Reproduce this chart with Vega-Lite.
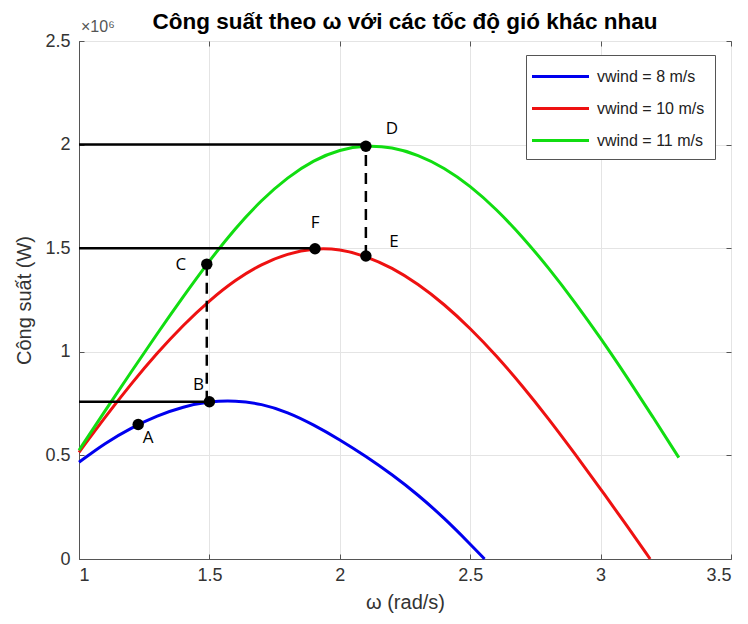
{
  "$schema": "https://vega.github.io/schema/vega-lite/v6.json",
  "autosize": {"type": "none"},
  "width": 652,
  "height": 518,
  "padding": {"left": 79, "top": 41, "right": 17, "bottom": 65},
  "background": "white",
  "config": {
    "view": {"stroke": "#555555", "strokeWidth": 1},
    "font": "Liberation Sans"
  },
  "title": {
    "text": "Công suất theo  ω với các tốc độ gió khác nhau",
    "font": "Liberation Sans",
    "fontSize": 22.5,
    "fontWeight": "bold",
    "color": "#000000",
    "anchor": "middle",
    "offset": -14
  },
  "datasets": {
    "curves": [
      {"w": 1.0, "P": 467000, "s": "vwind = 8 m/s"},
      {"w": 1.1, "P": 560000, "s": "vwind = 8 m/s"},
      {"w": 1.2, "P": 633000, "s": "vwind = 8 m/s"},
      {"w": 1.3, "P": 692000, "s": "vwind = 8 m/s"},
      {"w": 1.4, "P": 735000, "s": "vwind = 8 m/s"},
      {"w": 1.5, "P": 761000, "s": "vwind = 8 m/s"},
      {"w": 1.6, "P": 765000, "s": "vwind = 8 m/s"},
      {"w": 1.7, "P": 749000, "s": "vwind = 8 m/s"},
      {"w": 1.8, "P": 709000, "s": "vwind = 8 m/s"},
      {"w": 1.9, "P": 648000, "s": "vwind = 8 m/s"},
      {"w": 2.0, "P": 576000, "s": "vwind = 8 m/s"},
      {"w": 2.1, "P": 496000, "s": "vwind = 8 m/s"},
      {"w": 2.2, "P": 408000, "s": "vwind = 8 m/s"},
      {"w": 2.3, "P": 310000, "s": "vwind = 8 m/s"},
      {"w": 2.4, "P": 198000, "s": "vwind = 8 m/s"},
      {"w": 2.5, "P": 72000, "s": "vwind = 8 m/s"},
      {"w": 2.555, "P": 0, "s": "vwind = 8 m/s"},
      {"w": 1.0, "P": 515000, "s": "vwind = 10 m/s"},
      {"w": 1.1, "P": 685000, "s": "vwind = 10 m/s"},
      {"w": 1.2, "P": 846000, "s": "vwind = 10 m/s"},
      {"w": 1.3, "P": 995000, "s": "vwind = 10 m/s"},
      {"w": 1.4, "P": 1130000, "s": "vwind = 10 m/s"},
      {"w": 1.5, "P": 1248000, "s": "vwind = 10 m/s"},
      {"w": 1.6, "P": 1348000, "s": "vwind = 10 m/s"},
      {"w": 1.7, "P": 1424000, "s": "vwind = 10 m/s"},
      {"w": 1.8, "P": 1474000, "s": "vwind = 10 m/s"},
      {"w": 1.9, "P": 1500000, "s": "vwind = 10 m/s"},
      {"w": 2.0, "P": 1496000, "s": "vwind = 10 m/s"},
      {"w": 2.1, "P": 1462000, "s": "vwind = 10 m/s"},
      {"w": 2.2, "P": 1406000, "s": "vwind = 10 m/s"},
      {"w": 2.3, "P": 1328000, "s": "vwind = 10 m/s"},
      {"w": 2.4, "P": 1230000, "s": "vwind = 10 m/s"},
      {"w": 2.5, "P": 1114000, "s": "vwind = 10 m/s"},
      {"w": 2.6, "P": 982000, "s": "vwind = 10 m/s"},
      {"w": 2.7, "P": 836000, "s": "vwind = 10 m/s"},
      {"w": 2.8, "P": 678000, "s": "vwind = 10 m/s"},
      {"w": 2.9, "P": 510000, "s": "vwind = 10 m/s"},
      {"w": 3.0, "P": 338000, "s": "vwind = 10 m/s"},
      {"w": 3.1, "P": 162000, "s": "vwind = 10 m/s"},
      {"w": 3.19, "P": 0, "s": "vwind = 10 m/s"},
      {"w": 1.0, "P": 525000, "s": "vwind = 11 m/s"},
      {"w": 1.1, "P": 715000, "s": "vwind = 11 m/s"},
      {"w": 1.2, "P": 903000, "s": "vwind = 11 m/s"},
      {"w": 1.3, "P": 1088000, "s": "vwind = 11 m/s"},
      {"w": 1.4, "P": 1267000, "s": "vwind = 11 m/s"},
      {"w": 1.5, "P": 1440000, "s": "vwind = 11 m/s"},
      {"w": 1.6, "P": 1598000, "s": "vwind = 11 m/s"},
      {"w": 1.7, "P": 1733000, "s": "vwind = 11 m/s"},
      {"w": 1.8, "P": 1843000, "s": "vwind = 11 m/s"},
      {"w": 1.9, "P": 1925000, "s": "vwind = 11 m/s"},
      {"w": 2.0, "P": 1977000, "s": "vwind = 11 m/s"},
      {"w": 2.1, "P": 1996000, "s": "vwind = 11 m/s"},
      {"w": 2.2, "P": 1988000, "s": "vwind = 11 m/s"},
      {"w": 2.3, "P": 1951000, "s": "vwind = 11 m/s"},
      {"w": 2.4, "P": 1889000, "s": "vwind = 11 m/s"},
      {"w": 2.5, "P": 1801000, "s": "vwind = 11 m/s"},
      {"w": 2.6, "P": 1689000, "s": "vwind = 11 m/s"},
      {"w": 2.7, "P": 1556000, "s": "vwind = 11 m/s"},
      {"w": 2.8, "P": 1406000, "s": "vwind = 11 m/s"},
      {"w": 2.9, "P": 1242000, "s": "vwind = 11 m/s"},
      {"w": 3.0, "P": 1066000, "s": "vwind = 11 m/s"},
      {"w": 3.1, "P": 880000, "s": "vwind = 11 m/s"},
      {"w": 3.2, "P": 687000, "s": "vwind = 11 m/s"},
      {"w": 3.3, "P": 489000, "s": "vwind = 11 m/s"}
    ],
    "hlines": [
      {"w0": 1.0, "w1": 2.1, "P": 2000000},
      {"w0": 1.0, "w1": 1.905, "P": 1500000},
      {"w0": 1.0, "w1": 1.5, "P": 759000}
    ],
    "vlines": [
      {"w": 1.49, "P0": 759000, "P1": 1423000},
      {"w": 2.1, "P0": 1462000, "P1": 1992000}
    ],
    "pts": [
      {"name": "A", "w": 1.227, "P": 649000},
      {"name": "B", "w": 1.5, "P": 759000},
      {"name": "C", "w": 1.49, "P": 1423000},
      {"name": "D", "w": 2.1, "P": 1992000},
      {"name": "E", "w": 2.1, "P": 1462000},
      {"name": "F", "w": 1.905, "P": 1497000}
    ],
    "expo": [{"w": 1.0, "P": 2500000, "t": "×10⁶"}]
  },
  "resolve": {"axis": {"x": "independent", "y": "independent"}},
  "layer": [
    {
      "data": {"name": "curves"},
      "mark": {"type": "line", "strokeWidth": 3, "interpolate": "basis"},
      "encoding": {
        "x": {
          "field": "w", "type": "quantitative",
          "scale": {"domain": [1, 3.5], "nice": false, "zero": false},
          "axis": {
            "title": "ω (rad/s)",
            "values": [1, 1.5, 2, 2.5, 3, 3.5],
            "format": "~g",
            "grid": true, "gridColor": "#e4e4e4",
            "domainColor": "#555555",
            "tickColor": "#555555", "tickSize": -5,
            "labelFontSize": 18, "labelColor": "#333333", "labelPadding": 12,
            "labelFont": "Liberation Sans",
            "titleFont": "Liberation Sans", "titleFontSize": 20, "titleFontWeight": "normal",
            "titleColor": "#333333", "titlePadding": 8
          }
        },
        "y": {
          "field": "P", "type": "quantitative",
          "scale": {"domain": [0, 2500000], "nice": false},
          "axis": {
            "title": "Công suất (W)",
            "values": [0, 500000, 1000000, 1500000, 2000000, 2500000],
            "labelExpr": "format(datum.value/1000000, '~g')",
            "grid": true, "gridColor": "#e4e4e4",
            "domainColor": "#555555",
            "tickColor": "#555555", "tickSize": -5,
            "labelFontSize": 18, "labelColor": "#333333", "labelPadding": 14,
            "labelFont": "Liberation Sans",
            "titleFont": "Liberation Sans", "titleFontSize": 20, "titleFontWeight": "normal",
            "titleColor": "#333333", "titlePadding": 10
          }
        },
        "color": {
          "field": "s", "type": "nominal",
          "scale": {
            "domain": ["vwind = 8 m/s", "vwind = 10 m/s", "vwind = 11 m/s"],
            "range": ["#0000ee", "#ee1111", "#11dd11"]
          },
          "legend": {
            "title": null,
            "orient": "none",
            "legendX": 447,
            "legendY": 14,
            "direction": "vertical",
            "symbolType": "M-2.85,0H2.85",
            "symbolStrokeWidth": 3,
            "symbolSize": 400,
            "symbolOffset": 13,
            "labelOffset": 25,
            "labelFontSize": 16,
            "labelFont": "Liberation Sans",
            "labelColor": "#222222",
            "strokeColor": "#555555",
            "fillColor": "white",
            "padding": 10,
            "rowPadding": 12
          }
        }
      }
    },
    {
      "data": {"name": "hlines"},
      "mark": {"type": "rule", "color": "black", "strokeWidth": 2.5},
      "encoding": {
        "x": {"field": "w0", "type": "quantitative", "axis": null},
        "x2": {"field": "w1"},
        "y": {"field": "P", "type": "quantitative", "axis": null}
      }
    },
    {
      "data": {"name": "vlines"},
      "mark": {"type": "rule", "color": "black", "strokeWidth": 2.5, "strokeDash": [11, 7]},
      "encoding": {
        "x": {"field": "w", "type": "quantitative", "axis": null},
        "y": {"field": "P0", "type": "quantitative", "axis": null},
        "y2": {"field": "P1"}
      }
    },
    {
      "data": {"name": "pts"},
      "mark": {"type": "circle", "color": "black", "size": 130, "opacity": 1},
      "encoding": {
        "x": {"field": "w", "type": "quantitative", "axis": null},
        "y": {"field": "P", "type": "quantitative", "axis": null}
      }
    },
    {
      "data": {"name": "pts"},
      "transform": [{"filter": "datum.name == 'A'"}],
      "mark": {"type": "text", "font": "Open Sans", "fontSize": 17, "color": "black", "dx": 10, "dy": 13},
      "encoding": {
        "x": {"field": "w", "type": "quantitative", "axis": null},
        "y": {"field": "P", "type": "quantitative", "axis": null},
        "text": {"field": "name"}
      }
    },
    {
      "data": {"name": "pts"},
      "transform": [{"filter": "datum.name == 'B'"}],
      "mark": {"type": "text", "font": "Open Sans", "fontSize": 17, "color": "black", "dx": -11, "dy": -17},
      "encoding": {
        "x": {"field": "w", "type": "quantitative", "axis": null},
        "y": {"field": "P", "type": "quantitative", "axis": null},
        "text": {"field": "name"}
      }
    },
    {
      "data": {"name": "pts"},
      "transform": [{"filter": "datum.name == 'C'"}],
      "mark": {"type": "text", "font": "Open Sans", "fontSize": 17, "color": "black", "dx": -26, "dy": 1},
      "encoding": {
        "x": {"field": "w", "type": "quantitative", "axis": null},
        "y": {"field": "P", "type": "quantitative", "axis": null},
        "text": {"field": "name"}
      }
    },
    {
      "data": {"name": "pts"},
      "transform": [{"filter": "datum.name == 'D'"}],
      "mark": {"type": "text", "font": "Open Sans", "fontSize": 17, "color": "black", "dx": 26, "dy": -17},
      "encoding": {
        "x": {"field": "w", "type": "quantitative", "axis": null},
        "y": {"field": "P", "type": "quantitative", "axis": null},
        "text": {"field": "name"}
      }
    },
    {
      "data": {"name": "pts"},
      "transform": [{"filter": "datum.name == 'E'"}],
      "mark": {"type": "text", "font": "Open Sans", "fontSize": 17, "color": "black", "dx": 28, "dy": -14},
      "encoding": {
        "x": {"field": "w", "type": "quantitative", "axis": null},
        "y": {"field": "P", "type": "quantitative", "axis": null},
        "text": {"field": "name"}
      }
    },
    {
      "data": {"name": "pts"},
      "transform": [{"filter": "datum.name == 'F'"}],
      "mark": {"type": "text", "font": "Open Sans", "fontSize": 17, "color": "black", "dx": 0, "dy": -26},
      "encoding": {
        "x": {"field": "w", "type": "quantitative", "axis": null},
        "y": {"field": "P", "type": "quantitative", "axis": null},
        "text": {"field": "name"}
      }
    },
    {
      "data": {"name": "expo"},
      "mark": {"type": "text", "font": "Liberation Sans", "fontSize": 16, "color": "#555555", "align": "left", "baseline": "bottom", "dx": 2, "dy": -6},
      "encoding": {
        "x": {"field": "w", "type": "quantitative", "axis": null},
        "y": {"field": "P", "type": "quantitative", "axis": null},
        "text": {"field": "t"}
      }
    },
    {
      "data": {"name": "hlines"},
      "mark": {"type": "point", "opacity": 0},
      "encoding": {
        "x": {
          "field": "w0", "type": "quantitative",
          "axis": {"orient": "top", "values": [1, 1.5, 2, 2.5, 3, 3.5], "labels": false, "domain": false, "grid": false, "title": null, "tickColor": "#555555", "tickSize": -5}
        },
        "y": {
          "field": "P", "type": "quantitative",
          "axis": {"orient": "right", "values": [0, 500000, 1000000, 1500000, 2000000, 2500000], "labels": false, "domain": false, "grid": false, "title": null, "tickColor": "#555555", "tickSize": -5}
        }
      }
    }
  ]
}
